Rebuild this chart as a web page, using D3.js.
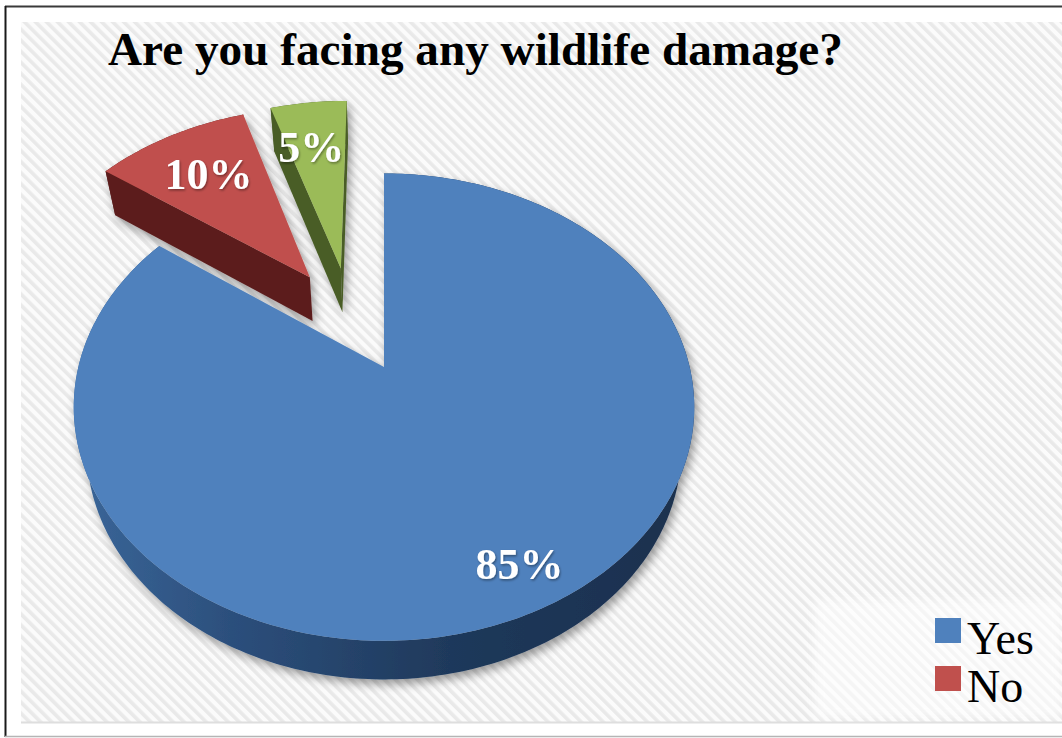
<!DOCTYPE html>
<html>
<head>
<meta charset="utf-8">
<script src="https://cdn.jsdelivr.net/npm/d3@7"></script>
<style>
  html, body { margin: 0; padding: 0; background: #ffffff; }
  svg { display: block; }
</style>
</head>
<body>
<script>
// ---- data ----
const title = "Are you facing any wildlife damage?";
const categories = ["Yes", "No", ""];
const values = [85, 10, 5];
const valueLabels = ["85%", "10%", "5%"];
const legendItems = ["Yes", "No"];

// ---- styles ----
const topColors = ["#4f81bd", "#c0504d", "#9bbb59"];
const sideColors = ["#2a4b73", "#5b1e1d", "#4a5d27"];

const W = 1062, H = 738;
const svg = d3.select("body").append("svg").attr("width", W).attr("height", H);
const defs = svg.append("defs");

// hatch pattern
const pat = defs.append("pattern").attr("id", "hatch").attr("patternUnits", "userSpaceOnUse")
  .attr("width", 7.8).attr("height", 7.8).attr("patternTransform", "rotate(-45)");
pat.append("rect").attr("width", 7.8).attr("height", 7.8).attr("fill", "#fbfbfb");
pat.append("rect").attr("width", 3.6).attr("height", 7.8).attr("fill", "#e9e9e9");

const sh = defs.append("filter").attr("id", "shadow").attr("x", "-20%").attr("y", "-20%").attr("width", "140%").attr("height", "140%");
sh.append("feDropShadow").attr("dx", 3).attr("dy", 5).attr("stdDeviation", 5)
  .attr("flood-color", "#000").attr("flood-opacity", 0.38);
const tsh = defs.append("filter").attr("id", "tshadow");
tsh.append("feDropShadow").attr("dx", 1).attr("dy", 1.5).attr("stdDeviation", 1.2)
  .attr("flood-color", "#000").attr("flood-opacity", 0.4);
const lb = defs.append("filter").attr("id", "soft");
lb.append("feGaussianBlur").attr("stdDeviation", 4);

const sideGrad = defs.append("linearGradient").attr("id", "blueSide")
  .attr("gradientUnits", "userSpaceOnUse").attr("x1", 75).attr("x2", 700).attr("y1", 0).attr("y2", 0);
[["0", "#3a6699"], ["0.25", "#2c4f7c"], ["0.6", "#1f395b"], ["1", "#1a2f4d"]].forEach(([o, c]) =>
  sideGrad.append("stop").attr("offset", o).attr("stop-color", c));

// frame
svg.append("rect").attr("x", 0).attr("y", 0).attr("width", W).attr("height", H).attr("fill", "#ffffff");
svg.append("rect").attr("x", 21).attr("y", 22).attr("width", W - 21).attr("height", 700).attr("fill", "url(#hatch)");
svg.append("line").attr("x1", 21).attr("x2", W).attr("y1", 722.5).attr("y2", 722.5).attr("stroke", "#dedede").attr("stroke-width", 2);
svg.append("line").attr("x1", 5).attr("x2", W).attr("y1", 6.5).attr("y2", 6.5).attr("stroke", "#3a3a3a").attr("stroke-width", 2);
svg.append("line").attr("x1", 5.5).attr("x2", 5.5).attr("y1", 6).attr("y2", 737).attr("stroke", "#1a1a1a").attr("stroke-width", 2);
svg.append("line").attr("x1", 5).attr("x2", W).attr("y1", 736.5).attr("y2", 736.5).attr("stroke", "#b5b5b5").attr("stroke-width", 1.5);

// legend background (soft)
svg.append("rect").attr("x", 815).attr("y", 600).attr("width", W - 815).attr("height", 118)
  .attr("fill", "#ffffff").attr("opacity", 0.55).attr("filter", "url(#soft)");

// title
const titleText = svg.append("text").attr("x", 108).attr("y", 65)
  .attr("font-family", "'Liberation Serif', 'Times New Roman', serif").attr("font-weight", "bold")
  .attr("font-size", 100).attr("fill", "#000").text(title);
const tw = titleText.node().getComputedTextLength();
titleText.attr("font-size", 100 * 735 / tw);

// ---- 3D pie ----
const cam = { cx: 384, cy: 367, F: 1192, D: 3.9, s: 0.742, c: 0.670 };
const thick = 0.22, explode = 0.25;
const rScale = d3.scaleLinear().domain([0, 1]).range([0, 1]);
function proj(X, Y, Z) {
  const depth = cam.D - Y * cam.s + Z * cam.c;
  const yc = Y * cam.c + Z * cam.s;
  return [cam.cx + cam.F * X / depth, cam.cy - cam.F * yc / depth];
}
const camWorld = [0, -cam.D * cam.c]; // X,Z of camera

const arcs = d3.pie().sort(null).value(d => d)(values);
const midOf = a => (a.startAngle + a.endAngle) / 2;
const m0 = midOf(arcs[0]);
const line = d3.line();

const slices = arcs.map((a, i) => {
  const mid = midOf(a);
  const ox = explode * Math.sin(mid) - explode * Math.sin(m0);
  const oz = explode * Math.cos(mid) - explode * Math.cos(m0);
  const pt = (th, r, Y) => proj(ox + rScale(r) * Math.sin(th), Y, oz + rScale(r) * Math.cos(th));
  return { a, i, ox, oz, pt, mid };
});

function arcPts(sl, t0, t1, Y, n) {
  const out = [];
  for (let k = 0; k <= n; k++) out.push(sl.pt(t0 + (t1 - t0) * k / n, 1, Y));
  return out;
}

// draw order: red, green, blue
const order = [1, 2, 0];
order.forEach(i => {
  const sl = slices[i];
  const { a } = sl;
  const g = svg.append("g").attr("filter", "url(#shadow)");
  const n = Math.max(20, Math.round((a.endAngle - a.startAngle) * 60));
  const topArc = arcPts(sl, a.startAngle, a.endAngle, 0, n);
  const botArc = arcPts(sl, a.startAngle, a.endAngle, -thick, n).reverse();
  g.append("path").attr("d", line(topArc.concat(botArc)) + "Z")
    .attr("fill", i === 0 ? "url(#blueSide)" : sideColors[i]);
  const relCam = [camWorld[0] - sl.ox, camWorld[1] - sl.oz];
  const faces = [
    { th: a.startAngle, n: [-Math.cos(a.startAngle), Math.sin(a.startAngle)] },
    { th: a.endAngle, n: [Math.cos(a.endAngle), -Math.sin(a.endAngle)] }
  ];
  faces.forEach(f => {
    if (f.n[0] * relCam[0] + f.n[1] * relCam[1] > 0.05) {
      const poly = [sl.pt(f.th, 0, 0), sl.pt(f.th, 1, 0), sl.pt(f.th, 1, -thick), sl.pt(f.th, 0, -thick)];
      g.append("path").attr("d", line(poly) + "Z").attr("fill", sideColors[i]);
    }
  });
  const top = [sl.pt(0, 0, 0)].concat(arcPts(sl, a.startAngle, a.endAngle, 0, n));
  g.append("path").attr("d", line(top) + "Z").attr("fill", topColors[i]);
});

// value labels
slices.forEach(sl => {
  const r = sl.i === 0 ? 0.85 : 0.7;
  const p = sl.pt(sl.mid, r, 0);
  svg.append("text").attr("x", p[0] - (sl.i === 2 ? 6 : 0)).attr("y", p[1]).attr("text-anchor", "middle")
    .attr("dominant-baseline", "central")
    .attr("font-family", "'Liberation Serif', 'Times New Roman', serif").attr("font-weight", "bold")
    .attr("font-size", 44).attr("fill", "#ffffff").attr("filter", "url(#tshadow)")
    .text(valueLabels[sl.i]);
});

// legend
legendItems.forEach((name, k) => {
  const idx = categories.indexOf(name);
  const y = 654 + k * 48;
  svg.append("rect").attr("x", 935).attr("y", y - 36).attr("width", 26).attr("height", 25).attr("fill", topColors[idx]);
  svg.append("text").attr("x", 967).attr("y", y)
    .attr("font-family", "'Liberation Serif', 'Times New Roman', serif")
    .attr("font-size", 46).attr("fill", "#000").text(name);
});
</script>
</body>
</html>
